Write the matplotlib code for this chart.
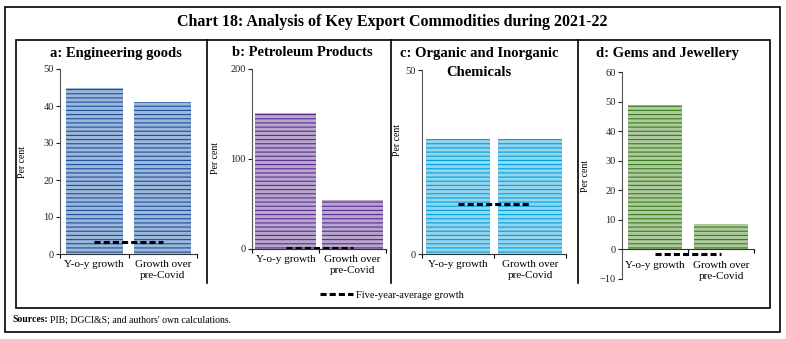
import numpy as np
import matplotlib
matplotlib.use("Agg")
import matplotlib.pyplot as plt
from matplotlib.patches import Rectangle
from matplotlib.lines import Line2D

plt.rcParams['font.family'] = ['Liberation Serif', 'DejaVu Serif']
plt.rcParams['hatch.linewidth'] = 0.8

# series (per cent)
categories = ['Y-o-y growth', 'Growth over\npre-Covid']
titles = [['a: Engineering goods'], ['b: Petroleum Products'],
          ['c: Organic and Inorganic', 'Chemicals'], ['d: Gems and Jewellery']]
eng_goods = [45.0, 41.0]
petroleum = [151.0, 55.0]
chemicals = [31.2, 31.2]
gems = [49.0, 8.5]
five_year_avg = [3.3, 1.2, 13.6, -1.7]

face_colors = ['#9bb7da', '#b8a6cc', '#93d5ef', '#adc99e']
line_colors = ['#1f4e9a', '#5a2d91', '#00a0dc', '#3b7a1e']
ylims = [(0, 50), (0, 200), (0, 50), (-10, 60)]
yticks = [np.arange(0, 51, 10), [0, 100, 200], [0, 50], np.arange(-10, 61, 10)]
bar_widths = [0.83, 0.9, 0.9, 0.83]
name_offsets = [-4, -4, -4, -8]

# axes boxes in pixels: left, right, bottom (ymin), top (ymax)
W, H = 786, 339
boxes = [(60, 197, 254, 69), (252, 386, 249, 69), (422, 566, 254, 70), (622, 754, 279, 72)]
label_pos = [(-0.24, 0.50), (-0.24, 0.505), (-0.14, 0.62), (-0.24, 0.50)]
title_x = [116, 302, 479, 668]

fig = plt.figure(figsize=(W / 100, H / 100), dpi=100)

# frames
fig.add_artist(Rectangle((5 / W, 1 - 332 / H), 775 / W, 325 / H, transform=fig.transFigure,
                         fill=False, lw=1.2, ec='black'))
fig.add_artist(Rectangle((16 / W, 1 - 308 / H), 754 / W, 268 / H, transform=fig.transFigure,
                         fill=False, lw=1.2, ec='black'))
for xd in [207, 391, 578]:
    fig.add_artist(Line2D([xd / W, xd / W], [1 - 40 / H, 1 - 283 / H], transform=fig.transFigure,
                          color='black', lw=1.2))

fig.text(392 / W, 1 - 22 / H, 'Chart 18: Analysis of Key Export Commodities during 2021-22',
         ha='center', va='center', fontsize=11.5, fontweight='bold')

data = [eng_goods, petroleum, chemicals, gems]
x = np.arange(len(categories))
for i, vals in enumerate(data):
    l, r, b, t = boxes[i]
    ax = fig.add_axes([l / W, 1 - b / H, (r - l) / W, (b - t) / H])
    ax.bar(x, vals, width=bar_widths[i], color=face_colors[i], edgecolor=line_colors[i],
           linewidth=0, hatch='----', zorder=2)
    avg_line, = ax.plot(x, [five_year_avg[i]] * 2, color='black', lw=2.2,
                        linestyle=(0, (2, 1)), zorder=3)
    ax.set_xlim(-0.5, 1.5)
    ax.set_ylim(*ylims[i])
    ax.set_yticks(yticks[i])
    ax.set_xticks([-0.5, 0.5, 1.5])
    ax.set_xticklabels([])
    ax.tick_params(axis='x', length=3, width=0.8)
    ax.tick_params(axis='y', length=3, width=0.8, labelsize=7.5, pad=1.5, colors='#222222')
    # category names hang under the zero line
    for xi, name in zip(x, categories):
        ax.annotate(name, xy=(xi, 0), xytext=(0, name_offsets[i]), textcoords='offset points',
                    ha='center', va='top', fontsize=8, linespacing=1.4)
    for s in ['top', 'right']:
        ax.spines[s].set_visible(False)
    ax.spines['left'].set_color('#555555')
    ax.spines['bottom'].set_color('#333333')
    ax.spines['bottom'].set_position(('data', 0))
    ax.set_ylabel('Per cent', fontsize=7)
    ax.yaxis.set_label_coords(*label_pos[i])
    ax.patch.set_visible(False)
    for k, line in enumerate(titles[i]):
        fig.text(title_x[i] / W, 1 - (53 + 19 * k) / H, line, ha='center', va='center',
                 fontsize=10.5, fontweight='bold')

fig.legend(handles=[avg_line], labels=['Five-year-average growth'], loc='center',
           bbox_to_anchor=(392 / W, 1 - 295 / H), frameon=False, fontsize=7.5,
           handlelength=3.2, handletextpad=0.3)

fig.text(12 / W, 1 - 320 / H, 'Sources:', fontsize=7, fontweight='bold', va='center')
fig.text(50 / W, 1 - 320 / H, "PIB; DGCI&S; and authors' own calculations.", fontsize=7, va='center')

fig.savefig('out.png', dpi=100)
